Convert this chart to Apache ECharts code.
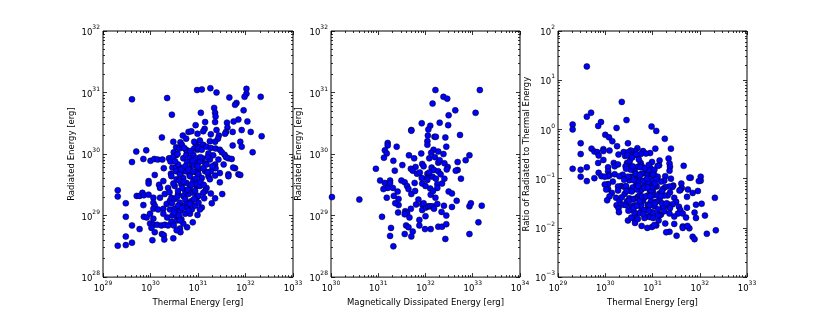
<!DOCTYPE html>
<html><head><meta charset="utf-8">
<script src="https://cdn.jsdelivr.net/npm/echarts@6/dist/echarts.min.js"></script>
<style>html,body{margin:0;padding:0;background:#fff}#c{width:830px;height:312px}</style>
</head><body><div id="c"></div><script>
// Values, as log10 of the energy in erg.
// Panel 1 / 3: thermal energy and radiated energy of each flare
const thermalExp = [29.61,30.35,30.98,30.45,30.24,30.95,30.80,30.86,30.68,30.75,30.63,30.48,30.54,30.61,29.70,29.91,29.61,29.85,30.00,30.08,
30.15,30.25,30.39,30.42,30.28,30.09,30.49,30.54,30.75,30.77,30.69,30.75,30.83,30.90,30.77,30.87,30.97,30.82,30.92,30.99,
30.46,30.54,30.62,30.43,30.54,30.63,30.73,30.82,30.94,31.01,30.95,31.03,30.92,30.99,31.08,31.26,31.39,32.02,32.02,31.98,
32.32,31.66,31.81,31.78,31.06,31.34,31.36,31.37,31.96,31.15,31.36,31.85,31.75,32.04,31.61,31.62,31.59,31.57,31.14,31.11,
30.99,31.39,31.73,31.92,32.11,32.34,31.27,31.44,31.42,31.04,31.11,31.25,31.36,31.89,31.92,31.73,32.15,31.01,31.08,31.18,
31.27,31.37,31.46,31.50,31.56,31.59,31.32,31.22,31.09,31.04,31.15,30.99,31.25,31.36,31.43,31.54,31.64,31.71,31.78,31.64,
31.85,31.37,31.27,31.15,30.97,31.46,29.31,29.31,29.48,29.48,29.61,29.31,29.48,29.61,29.71,29.77,29.83,29.86,29.96,29.96,
30.18,30.20,29.96,30.06,29.85,30.06,30.09,30.06,30.16,29.86,29.92,29.99,30.06,29.77,29.99,30.06,30.14,30.23,30.30,30.02,
30.09,30.24,30.28,30.29,30.04,30.48,30.62,30.63,30.77,30.37,30.44,30.55,30.65,30.46,30.56,30.41,30.51,30.62,30.70,30.77,
30.87,30.94,30.99,30.83,30.73,30.34,30.41,30.44,30.58,30.69,30.80,30.90,30.97,30.62,30.76,30.87,30.37,30.51,30.65,30.76,
30.90,30.97,30.55,30.69,30.83,30.62,30.44,31.89,31.64,31.46,31.51,31.36,31.29,31.27,31.13,31.18,31.15,31.08,31.04,31.01,
31.08,31.22,31.25,31.36,30.97,31.04,31.11,31.01,30.94,31.74,30.58,30.65,30.73,30.80,30.89,31.11,31.18,30.58,30.73,30.83,
30.51,30.58,30.73,30.83,31.01,30.27,30.35,30.49,30.55,30.69,30.89,30.27,30.20,30.30,30.27,29.48,
30.47,30.52,30.57,30.66,30.71,30.84,30.92,30.60,30.67,30.78,30.86,30.95,30.48,30.40,30.50,30.60,30.67,30.80,30.92,31.05,
31.12,31.20,31.30,31.05,31.20,30.90,30.70,30.56,30.62,30.45];
const radiatedExp = [30.89,30.91,31.04,30.64,30.27,30.47,30.36,30.37,30.30,30.25,30.19,30.20,30.11,30.09,30.04,30.06,29.87,29.92,29.89,29.92,
29.91,29.91,29.93,29.88,29.77,29.66,30.03,29.98,30.07,30.03,29.93,29.98,29.94,29.99,29.87,29.85,29.93,29.77,29.82,29.84,
29.78,29.78,29.78,29.68,29.72,29.68,29.72,29.67,29.71,29.75,30.17,30.12,30.09,30.07,31.05,31.07,31.00,31.06,30.98,30.93,
30.93,30.92,30.83,30.80,30.67,30.75,30.67,30.61,30.71,30.52,30.52,30.56,30.53,30.53,30.51,30.43,30.36,30.33,30.41,30.37,
30.33,30.39,30.36,30.39,30.36,30.29,30.32,30.30,30.25,30.22,30.15,30.21,30.20,30.20,30.12,30.14,30.03,30.09,30.07,30.12,
30.10,30.09,30.07,30.03,29.99,29.95,29.98,30.01,29.93,29.88,29.85,29.80,29.91,29.83,29.91,29.83,29.93,29.92,29.77,29.67,
29.67,29.77,29.72,29.72,29.70,29.69,29.41,29.31,29.20,28.98,28.84,28.51,28.52,28.56,29.32,29.32,29.37,29.33,29.56,29.52,
29.50,29.45,29.34,29.29,29.17,29.21,29.16,29.11,29.10,28.98,28.97,29.03,28.95,28.78,28.87,28.85,28.85,28.84,28.85,28.80,
28.73,28.70,28.68,28.61,28.60,28.63,28.79,28.73,28.81,28.84,28.90,28.92,28.94,29.00,29.00,29.10,29.11,29.08,29.16,29.13,
29.10,29.16,29.01,29.03,29.03,29.19,29.24,29.29,29.35,29.32,29.35,29.37,29.29,29.21,29.22,29.24,29.45,29.48,29.51,29.53,
29.56,29.48,29.59,29.61,29.64,29.67,29.64,29.66,29.64,29.54,29.35,29.28,29.20,29.36,29.28,29.45,29.40,29.13,29.10,29.67,
29.61,29.64,29.59,29.65,29.51,29.48,29.37,29.32,29.40,29.78,29.83,29.75,29.80,29.75,29.89,29.77,29.83,29.40,29.40,29.45,
29.27,29.16,29.27,29.19,29.21,29.11,28.97,28.84,28.76,28.87,28.89,29.03,29.29,29.35,29.56,28.66,
29.95,29.88,30.00,30.15,30.10,30.05,30.20,29.57,29.45,29.42,29.50,29.60,29.52,29.38,29.05,29.00,29.12,29.08,29.27,29.55,
29.50,29.70,29.80,29.95,29.95,29.72,29.55,29.30,28.92,29.20];
// Panel 2: magnetically dissipated energy and radiated energy
const magneticExp = [30.02,30.60,32.21,32.38,32.46,32.15,33.15,32.63,33.06,32.49,31.92,32.48,32.30,32.10,32.19,32.22,32.73,31.70,31.70,32.06,
32.05,32.04,32.04,32.17,32.42,32.44,31.20,31.20,31.14,31.18,31.12,31.39,31.65,31.76,31.91,32.08,32.27,32.38,32.27,32.47,
32.68,32.68,32.85,32.93,30.95,31.32,31.51,31.35,31.79,31.69,31.73,31.82,31.93,31.96,32.04,32.03,32.13,32.18,32.27,32.32,
32.45,32.64,32.75,31.04,31.14,31.20,31.11,31.31,31.18,31.25,31.25,31.49,31.56,31.61,31.64,31.70,31.77,31.93,32.04,32.15,
32.10,32.25,32.25,32.35,32.49,32.56,32.66,32.56,31.33,31.41,31.43,31.42,31.36,31.43,31.57,31.61,31.56,31.69,31.80,31.85,
31.93,31.93,32.01,32.06,32.10,32.15,32.18,32.11,32.21,32.25,32.39,32.34,32.00,31.87,31.87,32.11,32.27,32.35,32.44,32.44,
32.42,31.99,31.66,31.59,31.64,31.56,31.70,31.73,31.08,31.27,31.25,31.32,32.93,32.96,33.19,33.12,32.93,31.92,31.96,31.78,
32.20,32.30,32.12,32.40,32.22,32.40,32.08,32.16,31.88,32.00];
const magRadiatedExp = [29.30,29.26,31.04,30.93,30.90,30.82,31.04,30.71,30.67,30.63,30.50,30.47,30.51,30.46,30.28,30.28,30.31,30.39,30.38,30.40,
30.30,30.21,30.15,30.07,30.27,30.12,30.18,30.14,30.06,30.01,29.94,30.12,29.98,29.93,30.01,29.93,30.04,30.00,29.86,29.79,
29.87,29.74,29.90,29.98,29.76,29.89,29.82,29.73,29.79,29.76,29.73,29.68,29.84,29.80,29.68,29.61,29.78,29.74,29.72,29.67,
29.75,29.73,29.60,29.57,29.53,29.45,29.43,29.45,29.29,29.57,29.53,29.57,29.54,29.48,29.43,29.35,29.53,29.52,29.58,29.63,
29.44,29.51,29.45,29.52,29.39,29.36,29.24,29.14,29.32,29.39,29.17,29.05,29.20,29.27,29.07,29.04,29.02,29.11,29.18,29.26,
29.18,29.09,29.13,29.15,29.15,29.15,29.11,29.34,29.29,29.19,29.16,29.06,28.99,28.93,28.84,28.78,28.82,28.82,29.00,28.86,
28.62,28.78,28.97,28.84,28.81,28.70,28.66,28.74,28.98,28.80,28.67,28.50,29.15,29.20,29.16,28.89,28.70,29.61,29.20,29.40,
29.95,29.90,30.02,29.85,29.60,29.60,29.70,29.40,29.70,29.48];

const xTicks1 = [29, 33], yTicks1 = [28, 32];
const xTicks2 = [30, 34], yTicks2 = [28, 32];
const xTicks3 = [29, 33], yTicks3 = [-3, 2];

const toVal = e => Math.pow(10, e);
const p1 = thermalExp.map((x, i) => [toVal(x), toVal(radiatedExp[i])]);
const p2 = magneticExp.map((x, i) => [toVal(x), toVal(magRadiatedExp[i])]);
const p3 = thermalExp.map((x, i) => [toVal(x), toVal(radiatedExp[i]) / toVal(x)]);

const FONT = 'DejaVu Sans';
const fmt = v => {
  const e = Math.round(Math.log10(v));
  return '{b|10}{s|' + (e < 0 ? '\u2212' + (-e) : e) + '}';
};
const rich = {
  b: {fontSize: 8.5, fontFamily: FONT, color: '#000', verticalAlign: 'bottom', lineHeight: 13},
  s: {fontSize: 6, fontFamily: FONT, color: '#000', verticalAlign: 'top', lineHeight: 13}
};
function minors(lo, hi) {
  const out = [];
  for (let e = lo; e < hi; e++) for (let m = 2; m <= 9; m++) out.push(e + Math.log10(m));
  return out;
}
const tickLine = {color: '#000', width: 0.8};
const noLine = {show: false, onZero: false};
function xAxesFor(gi, range, name, nameGap) {
  const base = {gridIndex: gi, splitLine: {show: false}, axisLine: noLine};
  const mn = minors(range[0], range[1]);
  return [
    Object.assign({}, base, {type: 'log', logBase: 10, min: toVal(range[0]), max: toVal(range[1]), position: 'bottom',
      splitNumber: range[1] - range[0],
      name: name, nameLocation: 'middle', nameGap: nameGap,
      nameTextStyle: {fontFamily: FONT, fontSize: 8.5, color: '#000'},
      axisTick: {inside: true, length: 4, lineStyle: tickLine},
      axisLabel: {formatter: fmt, rich: rich, margin: 3, showMinLabel: true, showMaxLabel: true, interval: 0}}),
    Object.assign({}, base, {type: 'log', logBase: 10, min: toVal(range[0]), max: toVal(range[1]), position: 'top',
      splitNumber: range[1] - range[0],
      axisTick: {inside: true, length: 4, lineStyle: tickLine}, axisLabel: {show: false}}),
    Object.assign({}, base, {type: 'value', min: range[0], max: range[1], position: 'bottom',
      axisTick: {inside: true, length: 2, lineStyle: tickLine, customValues: mn}, axisLabel: {show: false}}),
    Object.assign({}, base, {type: 'value', min: range[0], max: range[1], position: 'top',
      axisTick: {inside: true, length: 2, lineStyle: tickLine, customValues: mn}, axisLabel: {show: false}})
  ];
}
function yAxesFor(gi, range, name, nameGap) {
  const base = {gridIndex: gi, splitLine: {show: false}, axisLine: noLine};
  const mn = minors(range[0], range[1]);
  return [
    Object.assign({}, base, {type: 'log', logBase: 10, min: toVal(range[0]), max: toVal(range[1]), position: 'left',
      splitNumber: range[1] - range[0],
      name: name, nameLocation: 'middle', nameGap: nameGap,
      nameTextStyle: {fontFamily: FONT, fontSize: 8.5, color: '#000'},
      axisTick: {inside: true, length: 4, lineStyle: tickLine},
      axisLabel: {formatter: fmt, rich: rich, margin: 3, showMinLabel: true, showMaxLabel: true, interval: 0}}),
    Object.assign({}, base, {type: 'log', logBase: 10, min: toVal(range[0]), max: toVal(range[1]), position: 'right',
      splitNumber: range[1] - range[0],
      axisTick: {inside: true, length: 4, lineStyle: tickLine}, axisLabel: {show: false}}),
    Object.assign({}, base, {type: 'value', min: range[0], max: range[1], position: 'left',
      axisTick: {inside: true, length: 2, lineStyle: tickLine, customValues: mn}, axisLabel: {show: false}}),
    Object.assign({}, base, {type: 'value', min: range[0], max: range[1], position: 'right',
      axisTick: {inside: true, length: 2, lineStyle: tickLine, customValues: mn}, axisLabel: {show: false}})
  ];
}
const gridStyle = {show: true, borderColor: '#000', borderWidth: 1, backgroundColor: 'transparent', containLabel: false};
const dot = {color: '#0000ff', borderColor: '#000', borderWidth: 0.5, opacity: 1};
function sc(xi, yi, data) {
  return {type: 'scatter', xAxisIndex: xi, yAxisIndex: yi, data: data, symbolSize: 6, itemStyle: dot, clip: true, silent: true};
}
const option = {
  animation: false,
  backgroundColor: '#fff',
  grid: [
    Object.assign({left: 103, top: 31, width: 190, height: 250}, gridStyle),
    Object.assign({left: 331, top: 31, width: 189, height: 250}, gridStyle),
    Object.assign({left: 558, top: 31, width: 189, height: 250}, gridStyle)
  ],
  xAxis: [].concat(
    xAxesFor(0, xTicks1, 'Thermal Energy [erg]', 14),
    xAxesFor(1, xTicks2, 'Magnetically Dissipated Energy [erg]', 14),
    xAxesFor(2, xTicks3, 'Thermal Energy [erg]', 14)),
  yAxis: [].concat(
    yAxesFor(0, yTicks1, 'Radiated Energy [erg]', 27),
    yAxesFor(1, yTicks2, 'Radiated Energy [erg]', 28),
    yAxesFor(2, yTicks3, 'Ratio of Radiated to Thermal Energy', 25)),
  series: [sc(0, 0, p1), sc(4, 4, p2), sc(8, 8, p3)]
};
echarts.init(document.getElementById('c'), null, {renderer: 'canvas'}).setOption(option);
</script></body></html>
